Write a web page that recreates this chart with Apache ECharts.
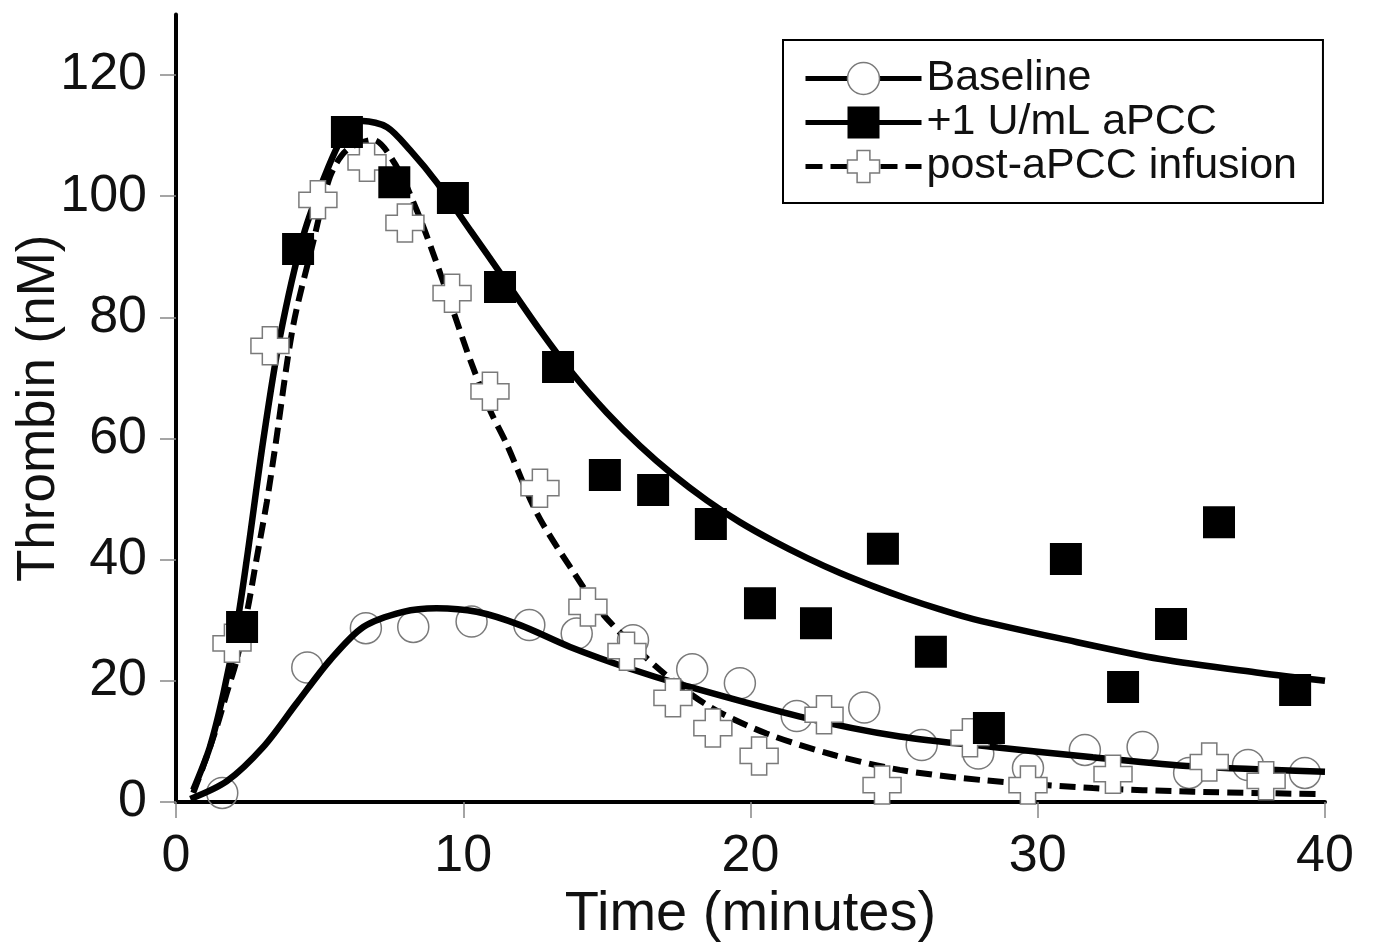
<!DOCTYPE html>
<html>
<head>
<meta charset="utf-8">
<script src="https://cdn.jsdelivr.net/npm/echarts@6/dist/echarts.min.js"></script>
<style>
html,body{margin:0;padding:0;background:#fff;}
#chart{width:1376px;height:948px;}
</style>
</head>
<body>
<div id="chart"></div>
<script>
// Series names
const seriesNames = ['Baseline', '+1 U/mL aPCC', 'post-aPCC infusion'];

// Measured data points [time (min), thrombin (nM)]
const baselinePoints = [[1.61,1.5],[4.57,22.2],[6.61,28.7],[8.26,28.9],[10.29,29.8],[12.30,29.2],[13.95,27.8],[15.91,26.7],[17.97,21.9],[19.63,19.6],[21.61,14.2],[23.96,15.6],[25.96,9.4],[27.93,8.0],[29.66,5.6],[31.64,8.6],[33.65,9.1],[35.27,4.8],[37.32,6.1],[39.30,4.8]];
const apccPoints = [[2.30,28.9],[4.25,91.3],[5.95,110.6],[7.60,102.3],[9.64,99.7],[11.28,85.0],[13.30,71.8],[14.93,54.0],[16.61,51.5],[18.62,45.9],[20.33,32.8],[22.28,29.5],[24.61,41.8],[26.28,24.8],[28.30,12.2],[30.98,40.1],[32.97,19.0],[34.64,29.4],[36.31,46.2],[38.96,18.5]];
const postPoints = [[1.95,26.2],[3.27,75.3],[4.94,99.4],[6.65,105.6],[7.97,95.6],[9.61,84.0],[10.93,67.8],[12.67,51.8],[14.34,32.2],[15.70,24.9],[17.30,17.2],[18.69,12.2],[20.30,7.6],[22.56,14.4],[24.58,2.8],[27.64,10.6],[29.66,2.8],[32.62,4.6],[35.97,6.6],[37.95,3.5]];

// Fitted curves
const baselineFit = [[0.5,0.5],[1.76,3.4],[3.04,9.1],[4.20,16.3],[5.36,23.4],[6.52,28.9],[7.91,31.4],[9.07,32.0],[10.47,31.4],[11.98,29.2],[13.72,25.6],[15.81,22.0],[17.65,19.3],[21.72,14.1],[25.2,10.8],[28.6,9.0],[31.92,7.4],[35.4,5.9],[40,5.0]];
const apccFit = [[0.6,2.0],[1.18,9.1],[1.65,17.9],[2.11,28.9],[2.46,39.9],[3.04,59.8],[3.62,76.8],[4.42,93.3],[5.26,104.3],[5.95,111.0],[6.51,112.4],[7.35,111.4],[8.15,107.6],[9.09,102.2],[10.24,94.4],[11.38,86.7],[12.67,77.9],[13.83,70.6],[14.99,64.3],[16.15,58.8],[17.31,54.0],[18.48,49.8],[19.63,46.2],[20.79,43.1],[21.96,40.3],[23.12,37.8],[24.28,35.6],[25.44,33.6],[26.6,31.8],[27.76,30.2],[30.77,27.0],[34.26,23.6],[37.74,21.3],[40,20.0]];
const postFit = [[0.6,1.5],[0.94,5.8],[1.42,12.4],[1.76,17.9],[2.11,23.4],[2.5,32.0],[2.8,40.0],[3.16,49.5],[3.45,58.5],[4.07,78.4],[4.77,92.3],[5.36,103.2],[5.94,107.6],[6.86,109.3],[7.68,104.9],[8.38,97.7],[8.95,90.6],[9.64,81.2],[10.24,73.0],[10.93,64.7],[11.5,59.2],[12.56,47.7],[13.72,38.8],[14.9,30.8],[16.85,21.8],[18.59,15.7],[20.56,11.3],[22.87,7.8],[25.2,5.3],[28.1,3.6],[31.92,2.3],[35.4,1.7],[39.9,1.3]];

// Tick values
const yTicks = [0, 20, 40, 60, 80, 100, 120];
const xTicks = [0, 10, 20, 30, 40];

const FONT = '"Liberation Sans", Arial, Helvetica, sans-serif';
const crossPath = 'path://M3,0 L7,0 L7,3 L10,3 L10,7 L7,7 L7,10 L3,10 L3,7 L0,7 L0,3 L3,3 Z';
const markerGray = '#7a7a7a';

const chart = echarts.init(document.getElementById('chart'), null, {renderer: 'canvas'});
chart.setOption({
  animation: false,
  backgroundColor: '#fff',
  textStyle: {fontFamily: FONT, color: '#000'},
  grid: {left: 176, right: 51, top: 14.5, bottom: 146, containLabel: false, outerBoundsMode: 'none'},
  legend: {
    left: 783, top: 40,
    orient: 'vertical',
    padding: [17, 26, 15, 20],
    itemGap: 1,
    itemWidth: 116,
    itemHeight: 40,
    backgroundColor: '#fff',
    borderColor: '#000',
    borderWidth: 2,
    borderRadius: 0,
    selectedMode: false,
    textStyle: {fontFamily: FONT, fontSize: 43, color: '#111', padding: [0, 0, 0, 0]},
    data: [
      {name: seriesNames[0], itemStyle: {color: '#fff', borderColor: markerGray, borderWidth: 1.5, opacity: 1}, lineStyle: {color: '#000', width: 5, type: 'solid'}},
      {name: seriesNames[1], itemStyle: {color: '#000', borderColor: '#000', borderWidth: 0, opacity: 1}, lineStyle: {color: '#000', width: 5, type: 'solid'}},
      {name: seriesNames[2], itemStyle: {color: '#fff', borderColor: markerGray, borderWidth: 1.5, opacity: 1}, lineStyle: {color: '#000', width: 5, type: [17, 8]}}
    ]
  },
  xAxis: {
    type: 'value', min: 0, max: 40, interval: 10,
    name: 'Time (minutes)', nameLocation: 'middle', nameGap: 85, nameMoveOverlap: false,
    nameTextStyle: {fontFamily: FONT, fontSize: 56, color: '#111'},
    axisLine: {show: true, lineStyle: {color: '#000', width: 4}},
    axisTick: {show: true, inside: false, length: 16, lineStyle: {color: '#888', width: 1.5}},
    axisLabel: {fontFamily: FONT, fontSize: 52, color: '#111', margin: 29},
    splitLine: {show: false}
  },
  yAxis: {
    type: 'value', min: 0, max: 130, interval: 20,
    name: 'Thrombin (nM)', nameLocation: 'middle', nameGap: 110, nameMoveOverlap: false,
    nameTextStyle: {fontFamily: FONT, fontSize: 53, color: '#111'},
    axisLine: {show: true, onZero: false, lineStyle: {color: '#000', width: 4}},
    axisTick: {show: true, inside: false, length: 16, lineStyle: {color: '#888', width: 1.5}, customValues: yTicks},
    axisLabel: {fontFamily: FONT, fontSize: 52, color: '#111', margin: 29, customValues: yTicks},
    splitLine: {show: false}
  },
  series: [
    {
      name: seriesNames[0], type: 'line', data: baselineFit, smooth: 0.3, z: 3,
      symbol: 'circle', showSymbol: false,
      itemStyle: {color: '#fff', borderColor: markerGray, borderWidth: 1.5},
      lineStyle: {color: '#000', width: 6.5}
    },
    {
      name: seriesNames[1], type: 'line', data: apccFit, smooth: 0.3, z: 3,
      symbol: 'rect', showSymbol: false,
      itemStyle: {color: '#000'},
      lineStyle: {color: '#000', width: 6.5}
    },
    {
      name: seriesNames[2], type: 'line', data: postFit, smooth: 0.3, z: 3,
      symbol: crossPath, showSymbol: false,
      itemStyle: {color: '#fff', borderColor: markerGray, borderWidth: 1.5},
      lineStyle: {color: '#000', width: 6, type: [16, 8]}
    },
    {
      name: seriesNames[0], type: 'scatter', data: baselinePoints, z: 2,
      symbol: 'circle', symbolSize: 31,
      itemStyle: {color: 'rgba(255,255,255,0)', borderColor: markerGray, borderWidth: 1.5, opacity: 1}
    },
    {
      name: seriesNames[2], type: 'scatter', data: postPoints, z: 4,
      symbol: crossPath, symbolSize: 38,
      itemStyle: {color: '#fff', borderColor: markerGray, borderWidth: 1.5, opacity: 1}
    },
    {
      name: seriesNames[1], type: 'scatter', data: apccPoints, z: 5,
      symbol: 'rect', symbolSize: 32,
      itemStyle: {color: '#000', borderColor: '#000', borderWidth: 0, opacity: 1}
    }
  ]
});
</script>
</body>
</html>
